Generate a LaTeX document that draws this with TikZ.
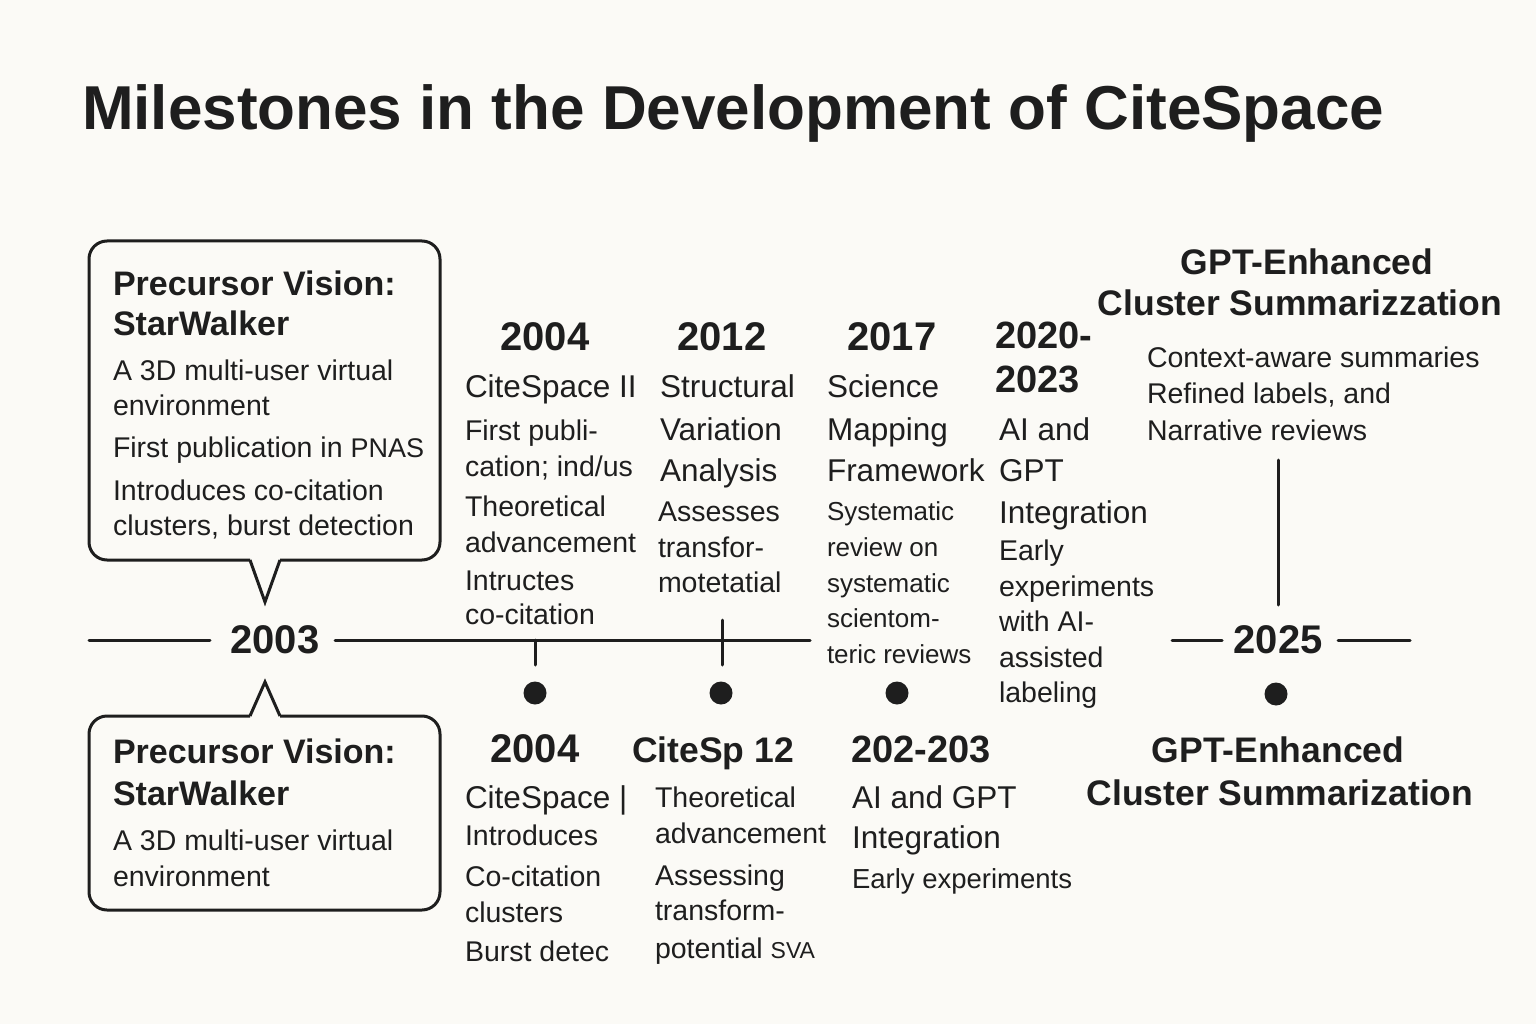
\documentclass[tikz,border=0pt]{standalone}
\usepackage{fontspec}
\setmainfont{Liberation Sans}
\definecolor{ink}{HTML}{1E1E1E}
\definecolor{bg}{HTML}{FBFAF6}
\newcommand\fsz[1]{\fontsize{#1}{#1}\selectfont}
\newcommand\mytxt[5]{\node[#4] (#1) at (#2,#3) {#5};}
\begin{document}
\begin{tikzpicture}[x=1pt,y=-1pt,
  every node/.style={inner sep=0pt,outer sep=0pt,text=ink},
  body/.style={font=\fsz{28.5},anchor=base west},
  bodyL/.style={font=\fsz{31.5},anchor=base west},
  small/.style={font=\fsz{26},anchor=base west},
  yearhd/.style={font=\bfseries\fsz{40},anchor=base},
  yearw/.style={font=\bfseries\fsz{38},anchor=base west},
  subhd/.style={font=\bfseries\fsz{34},anchor=base west},
  bighd/.style={font=\bfseries\fsz{35.5},anchor=base},
  tline/.style={draw=ink,line width=3pt,line cap=round},
  callout/.style={draw=ink,line width=3pt,line join=round},
  dot/.style={circle,fill=ink,minimum size=23pt}]
\useasboundingbox[fill=bg] (0,0) rectangle (1536,1024);

% title
\node[font=\bfseries\fsz{62},anchor=base west] (title) at (82,130) {Milestones in the Development of CiteSpace};

% callout boxes
\draw[callout,rounded corners=18] (250,560) -- (89,560) -- (89,241) -- (440,241) -- (440,560) -- (280,560);
\draw[callout,line join=miter] (250,560) -- (265,602) -- (280,560);
\draw[callout,rounded corners=18] (280,716) -- (440,716) -- (440,910) -- (89,910) -- (89,716) -- (250,716);
\draw[callout,line join=miter] (250,716) -- (265,682) -- (280,716);

% top box text
\mytxt{pa}{113}{295}{subhd}{Precursor Vision:}
\mytxt{pb}{113}{335}{subhd}{StarWalker}
\mytxt{pc}{113}{380}{body}{A 3D multi-user virtual}
\mytxt{pd}{113}{415}{body}{environment}
\mytxt{pe}{113}{457}{body}{First publication in {\fsz{27}PNAS}}
\mytxt{pf}{113}{500}{body}{Introduces co-citation}
\mytxt{pg}{113}{535}{body}{clusters, burst detection}

% bottom box text
\mytxt{qa}{113}{763}{subhd}{Precursor Vision:}
\mytxt{qb}{113}{805}{subhd}{StarWalker}
\mytxt{qc}{113}{850}{body}{A 3D multi-user virtual}
\mytxt{qd}{113}{886}{body}{environment}

% timeline
\node[yearhd] (y2003) at (275,653) {2003};
\node[yearhd] (y2025) at (1278,653) {2025};
\coordinate (la) at (89,640); \coordinate (lb) at (210,640);
\coordinate (lc) at (335,640); \coordinate (ld) at (810,640);
\coordinate (le) at (1172,640); \coordinate (lf) at (1222,640);
\coordinate (lg) at (1338,640); \coordinate (lh) at (1410,640);
\draw[tline] (la) -- (lb);
\draw[tline] (lc) -- (ld);
\draw[tline] (le) -- (lf);
\draw[tline] (lg) -- (lh);
\coordinate (ta) at (535,640); \coordinate (tb) at (535,665);
\coordinate (tc) at (722,620); \coordinate (td) at (722,665);
\coordinate (va) at (1278,460); \coordinate (vb) at (1278,605);
\draw[tline] (ta) -- (tb);
\draw[tline] (tc) -- (td);
\draw[tline] (va) -- (vb);
\node[dot] (d1) at (535,693) {};
\node[dot] (d2) at (721,693) {};
\node[dot] (d3) at (897,693) {};
\node[dot] (d4) at (1276,694) {};

% column 2004 (top)
\node[yearhd] (c1y) at (545,350) {2004};
\mytxt{c1a}{465}{397}{bodyL}{CiteSpace II}
\mytxt{c1b}{465}{440}{body}{First publi-}
\mytxt{c1c}{465}{476}{body}{cation; ind/us}
\mytxt{c1d}{465}{516}{body}{Theoretical}
\mytxt{c1e}{465}{552}{body}{advancement}
\mytxt{c1f}{465}{590}{body}{Intructes}
\mytxt{c1g}{465}{624}{body}{co-citation}

% column 2012
\node[yearhd] (c2y) at (722,350) {2012};
\mytxt{c2a}{660}{397}{bodyL}{Structural}
\mytxt{c2b}{660}{440}{bodyL}{Variation}
\mytxt{c2c}{660}{481}{bodyL}{Analysis}
\mytxt{c2d}{658}{521}{body}{Assesses}
\mytxt{c2e}{658}{557}{body}{transfor-}
\mytxt{c2f}{658}{592}{body}{motetatial}

% column 2017
\node[yearhd] (c3y) at (892,350) {2017};
\mytxt{c3a}{827}{397}{bodyL}{Science}
\mytxt{c3b}{827}{440}{bodyL}{Mapping}
\mytxt{c3c}{827}{481}{bodyL}{Framework}
\mytxt{c3d}{827}{520}{small}{Systematic}
\mytxt{c3e}{827}{556}{small}{review on}
\mytxt{c3f}{827}{592}{small}{systematic}
\mytxt{c3g}{827}{627}{small}{scientom-}
\mytxt{c3h}{827}{663}{small}{teric reviews}

% column 2020-2023
\mytxt{c4y}{995}{348}{yearw}{2020-}
\mytxt{c4z}{995}{392}{yearw}{2023}
\mytxt{c4a}{999}{440}{bodyL}{AI and}
\mytxt{c4b}{999}{481}{bodyL}{GPT}
\mytxt{c4c}{999}{523}{bodyL}{Integration}
\mytxt{c4d}{999}{560}{body}{Early}
\mytxt{c4e}{999}{596}{body}{experiments}
\mytxt{c4f}{999}{631}{body}{with AI-}
\mytxt{c4g}{999}{667}{body}{assisted}
\mytxt{c4h}{999}{702}{body}{labeling}

% top right
\node[bighd] (r1) at (1307,275) {GPT-Enhanced};
\node[bighd] (r2) at (1300,316) {Cluster Summarizzation};
\mytxt{r3}{1147}{367}{body}{Context-aware summaries}
\mytxt{r4}{1147}{403}{body}{Refined labels, and}
\mytxt{r5}{1147}{440}{body}{Narrative reviews}

% bottom row
\node[yearhd] (b1y) at (535,762) {2004};
\mytxt{b1a}{465}{808}{bodyL}{CiteSpace |}
\mytxt{b1b}{465}{845}{body}{Introduces}
\mytxt{b1c}{465}{886}{body}{Co-citation}
\mytxt{b1d}{465}{922}{body}{clusters}
\mytxt{b1e}{465}{961}{body}{Burst detec}

\node[font=\bfseries\fsz{35.5},anchor=base west] (b2y) at (632,762) {CiteSp 12};
\mytxt{b2a}{655}{807}{body}{Theoretical}
\mytxt{b2b}{655}{843}{body}{advancement}
\mytxt{b2c}{655}{885}{body}{Assessing}
\mytxt{b2d}{655}{920}{body}{transform-}
\mytxt{b2e}{655}{958}{body}{potential {\fsz{23}SVA}}

\mytxt{b3y}{851}{762}{yearw}{202-203}
\mytxt{b3a}{852}{808}{bodyL}{AI and GPT}
\mytxt{b3b}{852}{848}{bodyL}{Integration}
\node[font=\fsz{27.5},anchor=base west] (b3c) at (852,888) {Early experiments};

\node[bighd] (b4a) at (1278,762) {GPT-Enhanced};
\node[bighd] (b4b) at (1280,805) {Cluster Summarization};
\end{tikzpicture}
\end{document}
